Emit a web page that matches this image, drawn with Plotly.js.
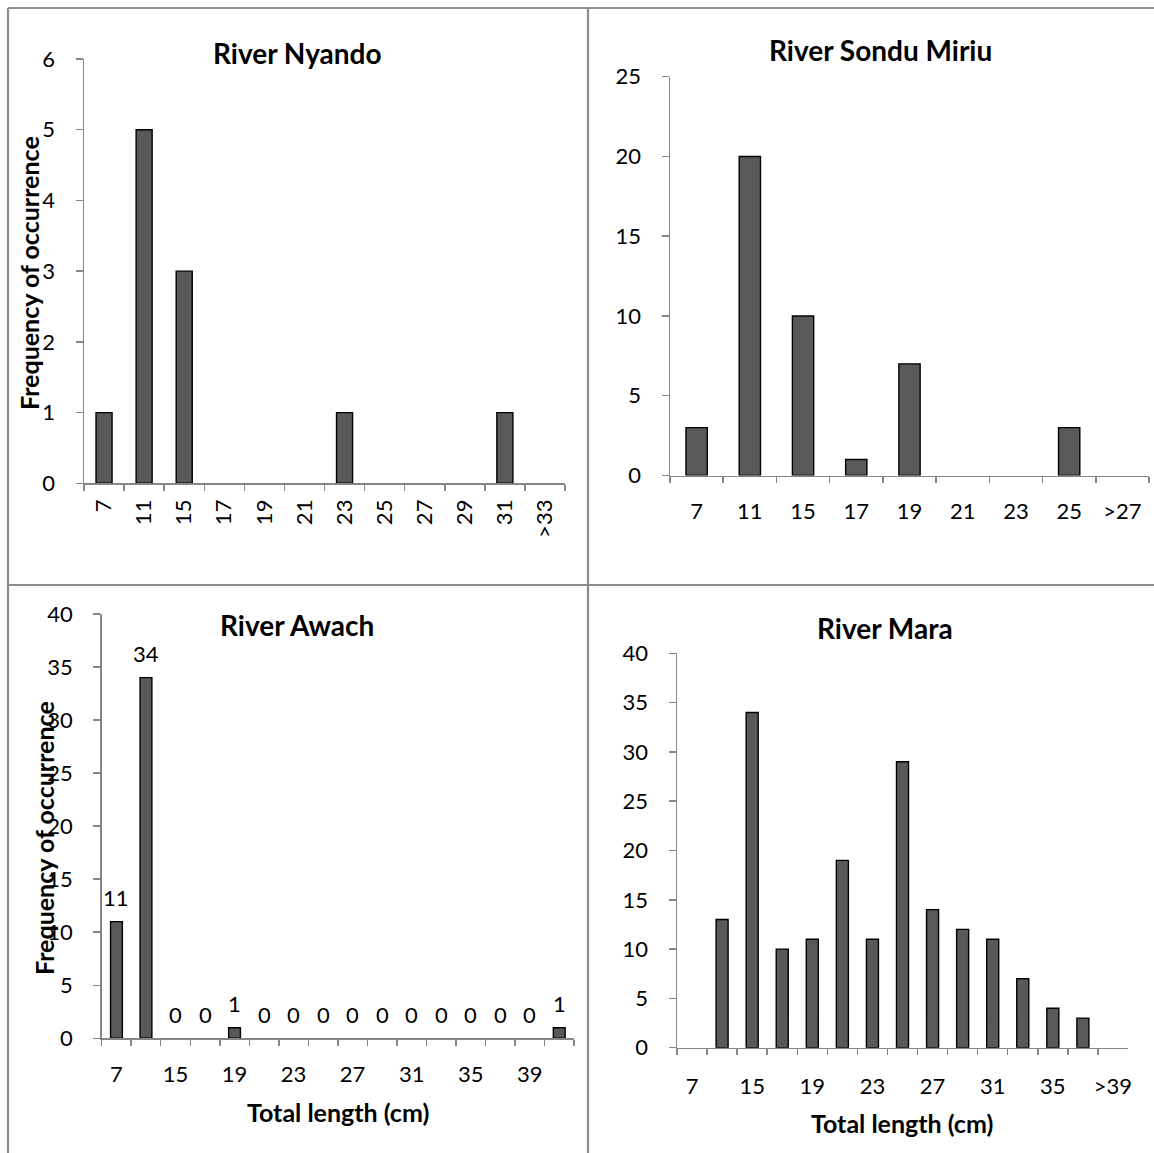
<!DOCTYPE html>
<html>
<head>
<meta charset="utf-8">
<script src="https://cdn.plot.ly/plotly-3.0.1.min.js"></script>
<style>
  html, body { margin: 0; padding: 0; background: #fff; }
  #chart { width: 1154px; height: 1153px; }
</style>
</head>
<body>
<div id="chart"></div>
<script>
// Length-frequency counts per river (total length classes, cm)
const nyandoBins = ['7', '11', '15', '17', '19', '21', '23', '25', '27', '29', '31', '>33'];
const nyandoCounts = [1, 5, 3, 0, 0, 0, 1, 0, 0, 0, 1, 0];

const sonduBins = ['7', '11', '15', '17', '19', '21', '23', '25', '>27'];
const sonduCounts = [3, 20, 10, 1, 7, 0, 0, 3, 0];

const awachBins = ['7', '11', '15', '17', '19', '21', '23', '25', '27', '29', '31', '33', '35', '37', '39', '>39'];
const awachCounts = [11, 34, 0, 0, 1, 0, 0, 0, 0, 0, 0, 0, 0, 0, 0, 1];
const awachTickLabels = ['7', '15', '19', '23', '27', '31', '35', '39'];

const maraBins = ['7', '11', '15', '17', '19', '21', '23', '25', '27', '29', '31', '33', '35', '37', '>39'];
const maraCounts = [0, 13, 34, 10, 11, 19, 11, 29, 14, 12, 11, 7, 4, 3, 0];
const maraTickLabels = ['7', '15', '19', '23', '27', '31', '35', '>39'];

const panelTitles = ['River Nyando', 'River Sondu Miriu', 'River Awach', 'River Mara'];
const yTitle = 'Frequency of occurrence';
const xTitle = 'Total length (cm)';

// ---- page geometry helpers (pixels -> paper fractions) ----
const W = 1154, H = 1153;
const px = v => v / W;
const py = v => 1 - v / H;

const FONT = 'Lato, "Open Sans", sans-serif';
const AXIS_GREY = '#868686';
const FRAME_GREY = '#8c8c8c';
const BAR_FILL = '#595959';
const TICK_SIZE = 22;

function barTrace(bins, counts, xa, ya) {
  return {
    type: 'bar',
    x: bins,
    y: counts,
    xaxis: xa,
    yaxis: ya,
    // empty classes get no outline so nothing shows on the baseline
    marker: {
      color: BAR_FILL,
      line: { color: '#000', width: counts.map(v => (v > 0 ? 1.4 : 0)) }
    },
    hoverinfo: 'x+y',
    showlegend: false
  };
}

function xAxis(bins, shown, left, right, anchor, extra) {
  return Object.assign({
    type: 'category',
    domain: [px(left), px(right)],
    anchor: anchor,
    range: [-0.5, bins.length - 0.5],
    tickmode: 'array',
    tickvals: bins,
    ticktext: bins.map(b => (shown.includes(b) ? b : '')),
    tickson: 'boundaries',
    tickangle: 0,
    ticks: 'outside',
    ticklen: 6,
    tickwidth: 1.5,
    tickcolor: AXIS_GREY,
    showline: true,
    linecolor: AXIS_GREY,
    linewidth: 1.5,
    showgrid: false,
    zeroline: false,
    fixedrange: true,
    tickfont: { family: FONT, size: TICK_SIZE, color: '#000' }
  }, extra || {});
}

function yAxis(maxV, step, topPx, bottomPx, anchor) {
  return {
    domain: [py(bottomPx), py(topPx)],
    anchor: anchor,
    range: [0, maxV],
    tickmode: 'linear',
    tick0: 0,
    dtick: step,
    ticks: 'outside',
    ticklen: 7,
    tickwidth: 1.5,
    tickcolor: AXIS_GREY,
    showline: true,
    linecolor: AXIS_GREY,
    linewidth: 1.5,
    showgrid: false,
    zeroline: false,
    fixedrange: true,
    ticklabelstandoff: 16,
    tickfont: { family: FONT, size: TICK_SIZE, color: '#000' }
  };
}

const data = [
  barTrace(nyandoBins, nyandoCounts, 'x', 'y'),
  barTrace(sonduBins, sonduCounts, 'x2', 'y2'),
  barTrace(awachBins, awachCounts, 'x3', 'y3'),
  barTrace(maraBins, maraCounts, 'x4', 'y4')
];

// Outer frame and the cross dividing the four panels
const frame = [
  { x0: 8, y0: 8, x1: W, y1: 8 },
  { x0: 8, y0: 8, x1: 8, y1: H },
  { x0: 588, y0: 8, x1: 588, y1: H },
  { x0: 8, y0: 585, x1: W, y1: 585 }
].map(s => ({
  type: 'line', xref: 'paper', yref: 'paper',
  x0: px(s.x0), x1: px(s.x1), y0: py(s.y0), y1: py(s.y1),
  line: { color: FRAME_GREY, width: 2.2 }
}));

function textNote(text, xPx, yPx, size, bold, angle) {
  return {
    xref: 'paper', yref: 'paper',
    x: px(xPx), y: py(yPx),
    xanchor: 'center', yanchor: 'middle',
    text: bold ? '<b>' + text + '</b>' : text,
    textangle: angle || 0,
    showarrow: false,
    font: { family: FONT, size: size, color: '#000' }
  };
}

const annotations = [
  textNote(panelTitles[0], 297, 53, 28, true),
  textNote(panelTitles[1], 880, 50, 28, true),
  textNote(panelTitles[2], 297, 625, 28, true),
  textNote(panelTitles[3], 885, 628, 28, true),
  textNote(yTitle, 29, 273, 25, true, -90),
  textNote(yTitle, 44, 838, 25, true, -90),
  textNote(xTitle, 338, 1112, 25, true),
  textNote(xTitle, 902, 1123, 25, true)
];

// Value labels above the River Awach bars (x given as category index)
awachCounts.forEach((v, i) => {
  annotations.push({
    xref: 'x3', yref: 'y3',
    x: i, y: v,
    text: String(v),
    yanchor: 'middle', yshift: 24,
    showarrow: false,
    font: { family: FONT, size: TICK_SIZE, color: '#000' }
  });
});

const layout = {
  width: W,
  height: H,
  margin: { l: 0, r: 0, t: 0, b: 0 },
  paper_bgcolor: '#fff',
  plot_bgcolor: 'rgba(0,0,0,0)',
  bargap: 0.6,
  font: { family: FONT, color: '#000' },
  xaxis: xAxis(nyandoBins, nyandoBins, 84, 565, 'y', { tickangle: -90, ticklabelstandoff: 6 }),
  yaxis: yAxis(6, 1, 59, 483.3, 'x'),
  xaxis2: xAxis(sonduBins, sonduBins, 670, 1149, 'y2', { ticklabelstandoff: 16 }),
  yaxis2: yAxis(25, 5, 76.7, 475.5, 'x2'),
  xaxis3: xAxis(awachBins, awachTickLabels, 101.7, 574, 'y3', { ticklabelstandoff: 16 }),
  yaxis3: yAxis(40, 5, 614, 1038.3, 'x3'),
  xaxis4: xAxis(maraBins, maraTickLabels, 677, 1128, 'y4', { ticklabelstandoff: 18 }),
  yaxis4: yAxis(40, 5, 653.3, 1047.7, 'x4'),
  shapes: frame,
  annotations: annotations
};

Plotly.newPlot('chart', data, layout, { displayModeBar: false, staticPlot: true });
</script>
</body>
</html>
